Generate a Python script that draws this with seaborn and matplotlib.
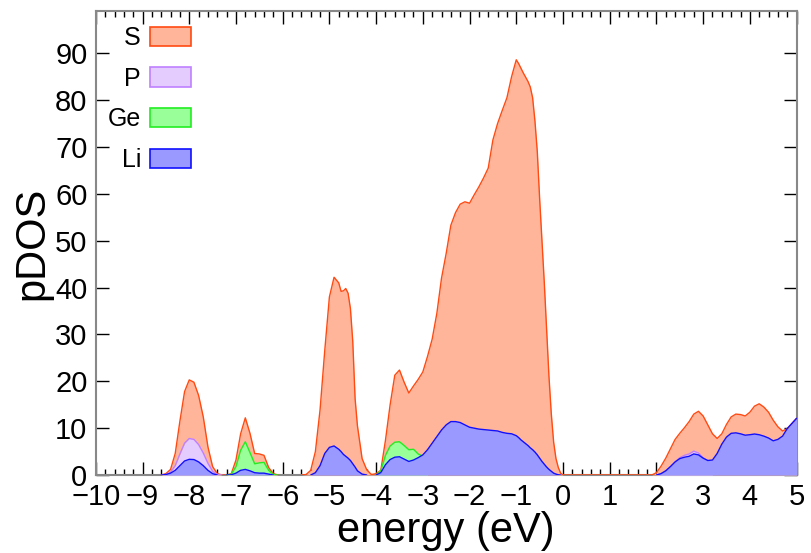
import numpy as np
import pandas as pd
import matplotlib.pyplot as plt
import seaborn as sns
from matplotlib.patches import Patch
from matplotlib.ticker import MultipleLocator

# energy grid (eV), shared by all species
energy = [-10.0,
          -8.6, -8.5, -8.4, -8.3, -8.2, -8.1, -8.0, -7.9, -7.8, -7.7, -7.6, -7.5, -7.4, -7.3,
          -7.2, -7.1, -7.0, -6.9, -6.8, -6.7, -6.6, -6.5, -6.4, -6.3, -6.2, -6.1, -6.0,
          -5.6, -5.5, -5.4, -5.3, -5.2, -5.1, -5.0, -4.9, -4.8, -4.75, -4.7, -4.65, -4.6,
          -4.55, -4.5, -4.45, -4.4, -4.3, -4.2, -4.1,
          -4.0, -3.9, -3.8, -3.7, -3.6, -3.5, -3.4, -3.3, -3.2, -3.1, -3.0, -2.9, -2.8,
          -2.7, -2.6, -2.5, -2.4, -2.3, -2.2, -2.1, -2.0, -1.9, -1.8, -1.7, -1.6, -1.5,
          -1.4, -1.3, -1.2, -1.1,
          -1.0, -0.95, -0.9, -0.85, -0.8, -0.75, -0.7, -0.65, -0.6, -0.55, -0.5, -0.45,
          -0.4, -0.35, -0.3, -0.25, -0.2, -0.15, -0.1, -0.05, 0.0,
          1.9, 2.0, 2.1, 2.2, 2.3, 2.4, 2.5, 2.6, 2.7, 2.8, 2.9, 3.0, 3.1, 3.2, 3.3,
          3.4, 3.5, 3.6, 3.7, 3.8, 3.9, 4.0, 4.1, 4.2, 4.3, 4.4, 4.5, 4.6, 4.7, 4.8,
          4.9, 5.0]

s_dos = [0,
         0, 0.3, 1.2, 4.6, 11.5, 17.8, 20.3, 19.8, 17.0, 12.4, 6.0, 1.8, 0.3, 0,
         0, 0.3, 3.2, 8.8, 12.2, 8.9, 4.6, 4.5, 4.2, 1.6, 0.3, 0, 0,
         0, 0.1, 1.0, 5.0, 13.9, 26.5, 38.0, 42.2, 41.0, 39.2, 39.3, 39.8, 38.8,
         35.5, 28.5, 16.3, 10.5, 3.5, 1.1, 0.1,
         0.3, 1.0, 7.4, 15.0, 21.3, 22.4, 19.8, 17.5, 19.0, 20.4, 22.0, 25.3, 29.0,
         34.5, 42.0, 47.3, 53.3, 56.0, 57.8, 58.3, 58.0, 59.8, 61.5, 63.4, 65.5, 71.5,
         75.0, 77.8, 80.5, 85.0,
         88.6, 87.8, 86.8, 85.8, 84.9, 84.0, 82.8, 80.5, 75.5, 69.0, 59.0, 50.0,
         41.0, 31.0, 21.0, 13.0, 7.0, 3.5, 1.6, 0.4, 0,
         0, 0.5, 1.9, 3.6, 5.6, 7.6, 8.9, 10.1, 11.4, 13.0, 13.6, 12.6, 10.7, 8.8, 7.8,
         8.8, 10.8, 12.4, 13.0, 12.9, 12.6, 13.4, 14.7, 15.2, 14.5, 13.4, 11.7, 10.3, 9.4, 9.9,
         11.0, 12.1]

p_dos = [0,
         0, 0.1, 0.6, 2.0, 4.5, 6.8, 7.8, 7.6, 6.5, 4.7, 2.5, 0.8, 0.1, 0,
         0, 0, 0, 0, 0, 0, 0, 0, 0, 0, 0, 0, 0,
         0, 0, 0, 0, 0, 0, 0, 0, 0, 0, 0, 0, 0,
         0, 0, 0, 0, 0, 0, 0,
         0, 0, 0, 0, 0, 0, 0, 0, 0, 0, 0, 0, 0,
         0, 0, 0, 0, 0, 0, 0, 0, 0, 0, 0, 0, 0,
         0, 0, 0, 0,
         0, 0, 0, 0, 0, 0, 0, 0, 0, 0, 0, 0,
         0, 0, 0, 0, 0, 0, 0, 0, 0,
         0, 0, 0.3, 0.9, 1.8, 2.8, 3.7, 4.2, 4.5, 5.1, 4.7, 3.7, 3.0, 0, 0,
         0, 0, 0, 0, 0, 0, 0, 0, 0, 0, 0, 0, 0, 0, 0,
         0, 0]

ge_dos = [0,
          0, 0, 0, 0, 0, 0, 0, 0, 0, 0, 0, 0, 0, 0,
          0, 0.2, 1.8, 5.3, 7.1, 4.8, 2.4, 2.6, 2.7, 1.0, 0.1, 0, 0,
          0, 0, 0, 0, 0, 0, 0, 0, 0, 0, 0, 0, 0,
          0, 0, 0, 0, 0, 0, 0,
          0, 0.9, 4.2, 6.2, 7.0, 7.1, 6.3, 5.4, 5.5, 4.5, 4.0, 0, 0,
          0, 0, 0, 0, 0, 0, 0, 0, 0, 0, 0, 0, 0,
          0, 0, 0, 0,
          0, 0, 0, 0, 0, 0, 0, 0, 0, 0, 0, 0,
          0, 0, 0, 0, 0, 0, 0, 0, 0,
          0, 0, 0, 0, 0, 0, 0, 0, 0, 0, 0, 0, 0, 0, 0,
          0, 0, 0, 0, 0, 0, 0, 0, 0, 0, 0, 0, 0, 0, 0,
          0, 0]

li_dos = [0,
          0, 0.1, 0.4, 1.0, 2.0, 3.0, 3.35, 3.3, 2.8, 2.0, 1.0, 0.3, 0, 0,
          0, 0.05, 0.4, 1.0, 1.2, 0.9, 0.5, 0.4, 0.4, 0.2, 0, 0, 0,
          0, 0, 0, 0.5, 2.0, 4.6, 5.9, 6.2, 5.5, 5.0, 4.4, 4.0, 3.6,
          3.1, 2.4, 1.7, 0.9, 0.2, 0, 0,
          0, 0.5, 2.2, 3.3, 3.8, 3.9, 3.4, 2.9, 3.2, 3.7, 4.3, 5.4, 6.8,
          8.2, 9.6, 10.7, 11.4, 11.4, 11.2, 10.7, 10.2, 10.0, 9.8, 9.7, 9.6, 9.5,
          9.4, 9.1, 8.9, 8.8,
          8.4, 8.0, 7.5, 7.1, 6.7, 6.3, 5.8, 5.4, 4.9, 4.3, 3.6, 2.9,
          2.3, 1.7, 1.2, 0.8, 0.4, 0.2, 0.05, 0, 0,
          0, 0, 0.3, 0.9, 1.8, 2.8, 3.5, 3.8, 4.0, 4.5, 4.3, 3.6, 3.1, 3.2, 4.6,
          6.6, 8.1, 8.9, 9.0, 8.8, 8.5, 8.6, 8.75, 8.6, 8.3, 7.9, 7.3, 7.6, 8.3, 9.9,
          11.0, 12.1]

species = ['S', 'P', 'Ge', 'Li']
fill_colors = ['#ffb59a', '#e5ccff', '#99ff99', '#9999ff']
edge_colors = ['#ff4a12', '#bf80ff', '#22ee22', '#1010ff']

df = pd.DataFrame({'energy': energy, 'S': s_dos, 'P': p_dos, 'Ge': ge_dos, 'Li': li_dos})

sns.set_theme(style='ticks')
plt.rcParams['font.family'] = ['Liberation Sans', 'DejaVu Sans']
plt.rcParams['text.color'] = 'black'
plt.rcParams['axes.labelcolor'] = 'black'

fig, ax = plt.subplots(figsize=(8.12, 5.53), dpi=100)
fig.subplots_adjust(left=0.118, right=0.981, bottom=0.141, top=0.980)

# each species drawn from zero, later ones in front
for z, (name, fc, ec) in enumerate(zip(species, fill_colors, edge_colors)):
    vals = df[name].to_numpy(dtype=float)
    ax.fill_between(df['energy'], vals, color=fc, lw=0, zorder=3 + z)
    # outline only where the curve leaves the baseline
    zero = vals == 0
    flat = zero & np.r_[True, zero[:-1]] & np.r_[zero[1:], True]
    part = pd.DataFrame({'energy': df['energy'], 'dos': vals, 'seg': np.cumsum(flat)})[~flat]
    sns.lineplot(data=part, x='energy', y='dos', units='seg', estimator=None,
                 color=ec, lw=1.0, sort=False, zorder=3.5 + z, ax=ax)

ax.set_xlim(-10, 5)
ax.set_ylim(0, 99)
ax.xaxis.set_major_locator(MultipleLocator(1))
ax.xaxis.set_minor_locator(MultipleLocator(0.2))
ax.yaxis.set_major_locator(MultipleLocator(10))

ax.tick_params(which='both', direction='in', top=True, right=True,
               labelsize=21, color='black', labelcolor='black', width=1.0, pad=6)
ax.tick_params(which='major', length=9.5)
ax.tick_params(which='minor', length=4.5)
for sp in ax.spines.values():
    sp.set_color('#888888')
    sp.set_linewidth(1.5)

ax.set_xlabel('energy (eV)', fontsize=30, labelpad=0)
ax.set_ylabel('pDOS', fontsize=30, labelpad=2)

handles = [Patch(facecolor=fc, edgecolor=ec, lw=1.2) for fc, ec in zip(fill_colors, edge_colors)]
ax.legend(handles, species, loc='upper left', bbox_to_anchor=(0.017, 0.968),
          frameon=False, fontsize=18, markerfirst=False, handlelength=1.64,
          handleheight=0.8, handletextpad=0.36, labelspacing=0.67,
          borderpad=0, borderaxespad=0)

fig.savefig('out.png', dpi=100)
